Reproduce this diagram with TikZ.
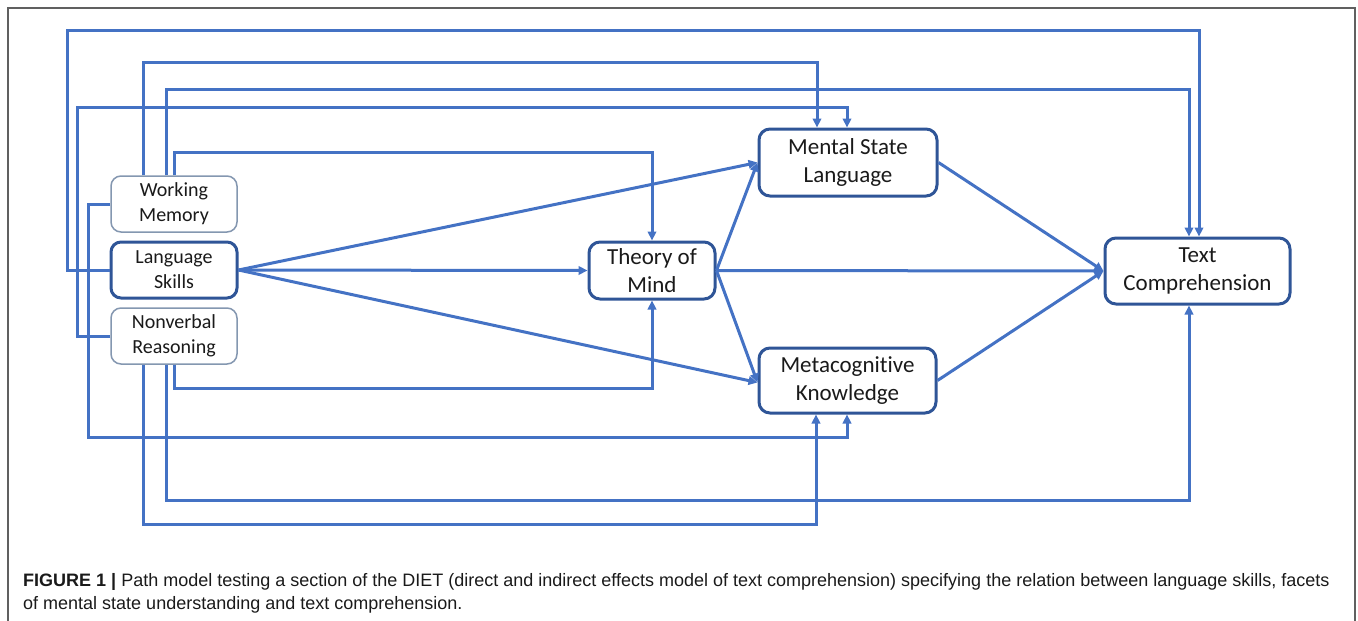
\documentclass[tikz,border=0pt]{standalone}
\usepackage{fontspec}
\setmainfont{Carlito}[Ligatures=NoCommon]
\newfontfamily\capfont{Liberation Sans}
\usetikzlibrary{arrows.meta}
\definecolor{conncol}{HTML}{4472C4}
\definecolor{darkbord}{HTML}{2F5597}
\definecolor{thinbord}{HTML}{8497B0}
\definecolor{txtcol}{HTML}{1A1A1A}
\tikzset{
  conn/.style={draw=conncol, line width=3pt, -{Triangle[length=9pt,width=8.5pt]}},
  smallbox/.style={draw=thinbord, line width=1.5pt, rounded corners=10pt, fill=white,
    minimum width=126pt, minimum height=56pt, inner sep=0pt, align=center,
    text=txtcol, font=\fontsize{20pt}{25pt}\selectfont},
  keybox/.style={smallbox, draw=darkbord, line width=3pt},
  bigbox/.style={draw=darkbord, line width=3pt, rounded corners=11pt, fill=white,
    inner sep=0pt, align=center, text=txtcol, font=\fontsize{23pt}{28.5pt}\selectfont},
  captext/.style={anchor=base west, inner sep=0pt, text=txtcol, font=\capfont\fontsize{18pt}{23pt}\selectfont}
}
\begin{document}
\begin{tikzpicture}[x=1pt,y=-1pt]
\useasboundingbox (0,0) rectangle (1358,621);
% outer frame
\draw[gray!75!black, line width=1.3pt] (8,621) -- (8,8) -- (1355,8) -- (1355,621);

% nodes
\node[smallbox] (WM) at (174,204) {Working\\Memory};
\node[keybox] (LS) at (174,270) {Language\\Skills};
\node[smallbox] (NR) at (174,336) {Nonverbal\\Reasoning};
\node[bigbox, minimum width=126pt, minimum height=57pt] (ToM) at (652,270.5) {Theory of\\Mind};
\node[bigbox, minimum width=178pt, minimum height=67pt] (MSL) at (848,162.5) {Mental State\\Language};
\node[bigbox, minimum width=177pt, minimum height=65pt] (MK) at (847.5,380.5) {Metacognitive\\Knowledge};
\node[bigbox, minimum width=185pt, minimum height=66pt] (TC) at (1197.5,271) {Text\\Comprehension};

% routed connectors
\draw[conn] (LS.west) -| (67,30) -| ([xshift=1.5pt]TC.north);
\draw[conn] ([xshift=-31pt]WM.north) -- (143,62) -| ([xshift=-31pt]MSL.north);
\draw[conn] ([xshift=-8pt]WM.north) -- (166,89) -| ([xshift=-8.5pt]TC.north);
\draw[conn] (NR.west) -| (77,107) -| ([xshift=-1pt]MSL.north);
\draw[conn] (WM.north) -- (174,152) -| (ToM.north);
\draw[conn] (WM.west) -| (88,437) -| ([xshift=-0.5pt]MK.south);
\draw[conn] (NR.south) -- (174,388) -| (ToM.south);
\draw[conn] ([xshift=-8pt]NR.south) -- (166,500) -| ([xshift=-8.5pt]TC.south);
\draw[conn] ([xshift=-31pt]NR.south) -- (143,524) -| ([xshift=-31.5pt]MK.south);

% straight connectors
\draw[conn] (LS.east) -- (ToM.west);
\draw[conn] (LS.east) -- (MSL.west);
\draw[conn] (LS.east) -- ([yshift=-2pt]MK.west);
\draw[conn] (ToM.east) -- (MSL.west);
\draw[conn] (ToM.east) -- ([yshift=-2pt]MK.west);
\draw[conn] (ToM.east) -- (TC.west);
\draw[conn] (MSL.east) -- (TC.west);
\draw[conn] (MK.east) -- (TC.west);

% caption
\node[captext] (cap1) at (23,586)
  {\textbf{FIGURE 1 |} Path model testing a section of the DIET (direct and indirect effects model of text comprehension) specifying the relation between language skills, facets};
\node[captext] (cap2) at (23,609)
  {of mental state understanding and text comprehension.};
\end{tikzpicture}
\end{document}
